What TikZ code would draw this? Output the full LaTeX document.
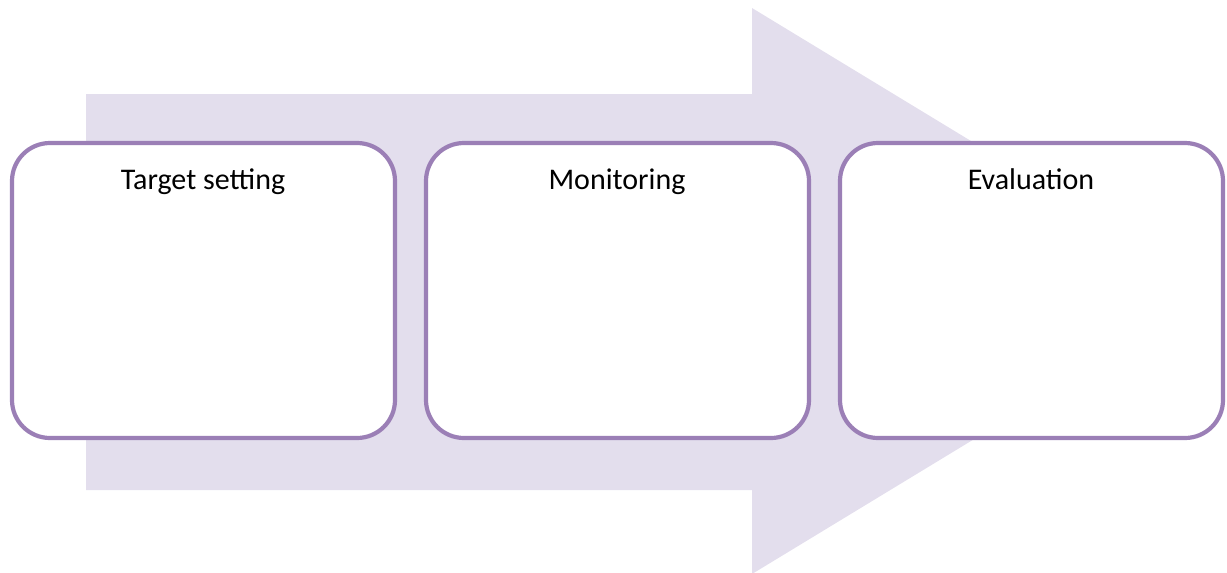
\documentclass[tikz,border=0pt]{standalone}
\usepackage{fontspec}
\setmainfont{Carlito}
\definecolor{arrowfill}{HTML}{E3DEED}
\definecolor{boxline}{HTML}{9B7FB6}
\begin{document}
\begin{tikzpicture}[x=1pt,y=-1pt,
  stagebox/.style={draw=boxline,line width=4.2pt,fill=white,rounded corners=38pt},
  stagelabel/.style={anchor=base,font=\fontsize{30}{35}\selectfont,text=black,inner sep=0pt}]
\useasboundingbox (0,0) rectangle (1227,573);
\fill[arrowfill] (86,94) -- (752,94) -- (752,8) -- (1218,291) -- (752,574) -- (752,490) -- (86,490) -- cycle;
\draw[stagebox] (12,143) rectangle (395,438);
\draw[stagebox] (426,143) rectangle (809,438);
\draw[stagebox] (840,143) rectangle (1223,438);
\node[stagelabel] (t1) at (203,189) {Target setting};
\node[stagelabel] (t2) at (617,189) {Monitoring};
\node[stagelabel] (t3) at (1031,189) {Evaluation};
\end{tikzpicture}
\end{document}
